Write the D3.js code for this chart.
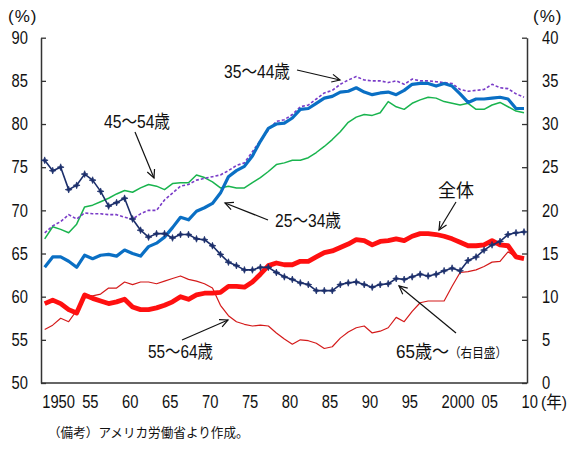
<!DOCTYPE html>
<html>
<head>
<meta charset="utf-8">
<script src="https://cdn.jsdelivr.net/npm/d3@7"></script>
<style>
html,body{margin:0;padding:0;background:#fff;}
svg{display:block;}
text{font-family:"Liberation Sans","Noto Sans CJK JP",sans-serif;fill:#111;}
</style>
</head>
<body>
<svg id="chart" width="576" height="451"></svg>
<script>
// ---- Data (1950–2010, annual) ----
const startYear = 1950;
const endYear = 2010;
const total = [59.2,59.6,59.2,58.5,58.1,60.2,59.8,59.5,59.2,59.4,59.7,58.8,58.5,58.5,58.7,59.0,59.4,60.0,59.7,60.2,60.4,60.4,60.5,61.2,61.2,61.1,61.7,62.6,63.6,63.9,63.7,63.7,64.1,64.1,64.6,65.1,65.3,65.7,66.1,66.6,66.5,66.0,66.4,66.5,66.7,66.5,67.0,67.3,67.3,67.2,67.0,66.7,66.3,65.9,65.9,66.0,66.5,66.0,65.9,64.6,64.4];
const age25_34 = [63.4,64.6,64.6,64.1,63.4,64.8,64.4,64.8,64.9,64.7,65.4,65.0,64.7,65.8,66.2,66.9,68.0,69.2,68.9,69.9,70.3,70.8,72.0,73.9,74.6,75.1,76.3,78.0,79.5,80.0,80.1,80.7,81.7,81.8,82.4,83.0,83.2,83.7,83.8,84.2,83.7,83.4,83.6,83.7,83.4,83.9,84.6,84.7,84.7,84.4,84.7,84.4,83.5,82.5,82.9,82.9,83.0,83.1,82.9,81.8,81.8];
const age35_44 = [67.4,68.2,68.7,69.5,69.0,69.7,69.6,69.6,69.5,69.5,69.2,69.0,69.6,70.0,70.0,71.2,72.0,72.8,73.0,73.5,73.7,73.9,74.1,74.6,75.2,75.5,76.8,78.1,79.3,80.3,80.5,81.1,82.0,82.2,82.9,83.6,83.9,84.6,85.1,85.5,85.1,85.0,85.0,84.8,85.0,84.6,85.2,85.0,85.0,84.9,84.8,84.7,84.0,83.8,83.9,84.0,84.6,84.2,84.1,83.5,83.1];
const age45_54 = [66.7,68.1,67.8,67.4,68.4,70.4,70.6,71.0,71.4,71.9,72.3,72.1,72.6,73.0,72.8,72.4,73.1,73.2,73.2,74.1,73.8,73.3,72.6,72.8,72.6,72.6,73.2,73.8,74.5,75.3,75.5,75.8,75.8,76.1,76.7,77.4,78.2,79.1,80.2,80.8,81.1,81.0,81.3,82.6,82.0,81.7,82.4,82.8,83.1,83.0,82.6,82.4,82.2,82.4,81.7,81.7,82.2,82.5,82.0,81.5,81.3];
const age55_64 = [56.2,56.7,57.5,57.1,58.4,60.2,60.1,60.3,61.0,61.0,61.7,61.4,61.7,61.7,61.5,61.8,62.1,62.4,62.0,61.8,61.5,61.0,59.0,57.8,57.1,56.8,56.6,56.7,56.6,55.8,55.1,54.5,55.0,54.9,54.6,54.0,54.2,55.2,55.9,56.4,56.6,55.8,56.0,56.4,57.6,57.1,58.3,59.3,59.5,59.5,59.5,61.2,62.8,62.9,63.1,63.5,64.0,64.1,65.2,64.6,64.4];
const age65plus = [25.8,24.6,25.0,22.4,22.9,24.2,23.5,22.2,20.5,20.9,21.4,19.0,17.7,16.9,17.3,17.3,16.8,17.2,17.2,16.7,16.6,15.9,14.9,14.0,13.6,13.1,13.1,13.4,13.4,12.8,12.3,12.0,11.6,11.4,10.7,10.7,10.7,11.4,11.6,11.7,11.4,11.1,11.4,11.5,12.1,12.0,12.3,12.6,12.4,12.6,13.0,13.3,13.0,14.2,14.6,15.4,16.0,16.4,17.2,17.4,17.5];

const xTickYears = [1950,1955,1960,1965,1970,1975,1980,1985,1990,1995,2000,2005,2010];
const xTickLabels = ["1950","55","60","65","70","75","80","85","90","95","2000","05","10"];
const leftTicks = [50,55,60,65,70,75,80,85,90];
const rightTicks = [0,5,10,15,20,25,30,35,40];

const years = d3.range(startYear, endYear + 1);

// ---- Scales ----
const svg = d3.select("#chart");
const plotL = 41, plotR = 527, plotT = 37.7, plotB = 383;
const x = d3.scaleLinear().domain([startYear, endYear]).range([44.7, 524]);
const yL = d3.scaleLinear().domain([50, 90]).range([plotB, plotT]);
const yR = d3.scaleLinear().domain([0, 40]).range([plotB, plotT]);

const axisColor = "#333";
const digitW = 8.2; // condensed digit width

function narrow(sel) {
  sel.attr("textLength", function () { return this.textContent.length * digitW; })
     .attr("lengthAdjust", "spacingAndGlyphs");
}

// Left axis
const gL = svg.append("g").attr("transform", `translate(${plotL},0)`)
  .call(d3.axisLeft(yL).tickValues(leftTicks).tickSizeInner(-5).tickSizeOuter(0).tickPadding(13));
// Right axis
const gR = svg.append("g").attr("transform", `translate(${plotR},0)`)
  .call(d3.axisRight(yR).tickValues(rightTicks).tickSizeInner(-5).tickSizeOuter(0).tickPadding(15));
[gL, gR].forEach(g => {
  g.select(".domain").attr("stroke", axisColor).attr("stroke-width", 1.5);
  g.selectAll(".tick line").attr("stroke", axisColor).attr("stroke-width", 1.3);
  g.selectAll(".tick text").attr("font-size", 18).attr("fill", "#111")
    .style("font-family", '"Liberation Sans", sans-serif').call(narrow);
});
// Bottom axis
const gB = svg.append("g").attr("transform", `translate(0,${plotB})`)
  .call(d3.axisBottom(x).tickValues(xTickYears).tickSize(0).tickPadding(25)
    .tickFormat((d, i) => xTickLabels[i]));
gB.select(".domain").remove();
gB.selectAll(".tick text").attr("text-anchor", "start").attr("font-size", 18).attr("fill", "#111")
  .attr("dy", 0).attr("dx", -3).style("font-family", '"Liberation Sans", sans-serif').call(narrow);
svg.append("line").attr("x1", plotL).attr("x2", plotR).attr("y1", plotB).attr("y2", plotB)
  .attr("stroke", axisColor).attr("stroke-width", 1.5);

// Unit labels
svg.append("text").attr("x", 8).attr("y", 22).attr("font-size", 17).attr("letter-spacing", 1)
  .text("(%)");
svg.append("text").attr("x", 533).attr("y", 22).attr("font-size", 17).attr("letter-spacing", 1)
  .text("(%)");
svg.append("text").attr("x", 541).attr("y", 408).attr("font-size", 17)
  .attr("textLength", 26).attr("lengthAdjust", "spacingAndGlyphs").text("(年)");

// ---- Lines ----
function drawLine(values, yScale, color, width, dash) {
  const line = d3.line().x((d, i) => x(years[i])).y(d => yScale(d));
  const p = svg.append("path").datum(values).attr("d", line)
    .attr("fill", "none").attr("stroke", color).attr("stroke-width", width)
    .attr("stroke-linejoin", "round");
  if (dash) p.attr("stroke-dasharray", dash);
  return p;
}
drawLine(age45_54, yL, "#19b44e", 1.5);
drawLine(age35_44, yL, "#7a3cc8", 1.6, "3,2");
drawLine(age25_34, yL, "#0a6fc4", 3.2);
drawLine(age55_64, yL, "#d41a1a", 1.2);
drawLine(total, yL, "#ff1010", 4.8);
drawLine(age65plus, yR, "#1c2f6b", 1.6);

const star = "M0,-3.4L0.9,-0.9L3.4,0L0.9,0.9L0,3.4L-0.9,0.9L-3.4,0L-0.9,-0.9Z";
svg.append("g").selectAll("path").data(age65plus).join("path")
  .attr("d", star)
  .attr("transform", (d, i) => `translate(${x(years[i])},${yR(d)})`)
  .attr("fill", "#1c2f6b").attr("stroke", "#1c2f6b").attr("stroke-width", 0.7);

// ---- Annotations ----
function arrow(x1, y1, x2, y2) {
  const g = svg.append("g").attr("stroke", "#111").attr("stroke-width", 1.2).attr("fill", "none");
  g.append("line").attr("x1", x1).attr("y1", y1).attr("x2", x2).attr("y2", y2);
  const a = Math.atan2(y2 - y1, x2 - x1), L = 9, w = 0.45;
  g.append("path").attr("d",
    `M${x2 - L * Math.cos(a - w)},${y2 - L * Math.sin(a - w)}L${x2},${y2}L${x2 - L * Math.cos(a + w)},${y2 - L * Math.sin(a + w)}`);
}
function label(t, px, py, len) {
  const s = svg.append("text").attr("x", px).attr("y", py).attr("font-size", 18).text(t);
  if (len) s.attr("textLength", len).attr("lengthAdjust", "spacingAndGlyphs");
  return s;
}
label("35～44歳", 224, 78, 66);
arrow(297, 70, 340, 80);
label("45～54歳", 104, 128, 66);
arrow(135, 132, 154, 178);
label("25～34歳", 275, 227, 66);
arrow(268, 220, 225, 203);
label("55～64歳", 148, 358, 65);
arrow(182, 340, 228, 320);
label("全体", 438, 197);
arrow(456, 202, 439, 230);
label("65歳～", 396, 358, 53);
svg.append("text").attr("x", 449).attr("y", 357).attr("font-size", 13)
  .attr("textLength", 58).attr("lengthAdjust", "spacingAndGlyphs").text("（右目盛）");
arrow(456, 333, 399, 286);

svg.append("text").attr("x", 48).attr("y", 437).attr("font-size", 12.6).attr("fill", "#333")
  .style("font-family", '"Noto Sans CJK JP", sans-serif').text("（備考）アメリカ労働省より作成。");
</script>
</body>
</html>
